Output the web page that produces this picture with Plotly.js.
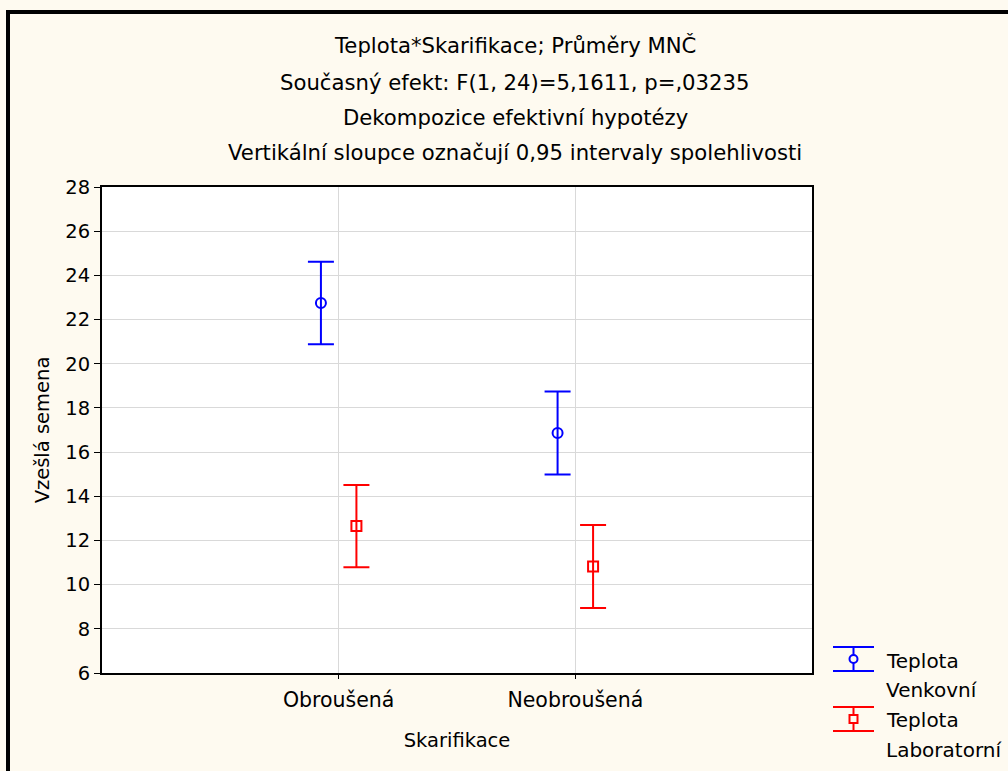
<!DOCTYPE html>
<html>
<head>
<meta charset="utf-8">
<script src="https://cdn.plot.ly/plotly-3.0.1.min.js"></script>
<style>
html,body{margin:0;padding:0;background:#FEFAF0;}
#chart{width:1008px;height:771px;}
</style>
</head>
<body>
<div id="chart"></div>
<script>
// Data
const categories = ["Obroušená", "Neobroušená"];
const venkovniMean = [22.75, 16.86];
const venkovniCI = [1.87, 1.88];
const laboratorniMean = [12.65, 10.82];
const laboratorniCI = [1.86, 1.88];
const yTicks = [6, 8, 10, 12, 14, 16, 18, 20, 22, 24, 26, 28];
const titleLines = [
  "Teplota*Skarifikace; Průměry MNČ",
  "Současný efekt: F(1, 24)=5,1611, p=,03235",
  "Dekompozice efektivní hypotézy",
  "Vertikální sloupce označují 0,95 intervaly spolehlivosti"
];
const legendLabels = [["Teplota", "Venkovní"], ["Teplota", "Laboratorní"]];

const FONT = "DejaVu Sans, Verdana, sans-serif";
const BLUE = "#0000FF", RED = "#FF0000";

// plot area geometry (pixels)
const L = 102, R = 812, T = 187, B = 673, W = 1008, H = 771;
const pw = R - L, ph = B - T;
const px = x => (x - L) / pw;
const py = y => (B - y) / ph;

const traces = [
  {
    type: "scatter", mode: "markers", name: "Teplota Venkovní",
    x: categories, y: venkovniMean,
    marker: {symbol: "circle-open", size: 10, color: BLUE, line: {width: 2, color: BLUE}},
    error_y: {type: "data", array: venkovniCI, visible: true, color: BLUE, thickness: 2, width: 13},
    showlegend: false, cliponaxis: false
  },
  {
    type: "scatter", mode: "markers", name: "Teplota Laboratorní",
    x: categories, y: laboratorniMean,
    marker: {symbol: "square-open", size: 10, color: RED, line: {width: 2, color: RED}},
    error_y: {type: "data", array: laboratorniCI, visible: true, color: RED, thickness: 2, width: 13},
    showlegend: false, cliponaxis: false
  }
];

const titleY = [45, 82.5, 117, 152];
const annotations = titleLines.map((t, i) => ({
  text: t, xref: "paper", yref: "paper",
  x: px(515), y: py(titleY[i]),
  xanchor: "center", yanchor: "middle", showarrow: false,
  font: {family: FONT, size: 21.2, color: "#000"}
}));

const legendTextY = [[661, 690], [720, 750]];
legendLabels.forEach((pair, i) => {
  pair.forEach((t, j) => {
    annotations.push({
      text: t, xref: "paper", yref: "paper",
      x: px(884), y: py(legendTextY[i][j]),
      xanchor: "left", yanchor: "middle", showarrow: false,
      font: {family: FONT, size: 20, color: "#000"}
    });
  });
});

const shapes = [];
// outer frame
shapes.push({type: "line", xref: "paper", yref: "paper", x0: px(8), x1: px(8), y0: py(10), y1: py(H + 5), line: {color: "#000", width: 4}});
shapes.push({type: "line", xref: "paper", yref: "paper", x0: px(6), x1: px(W + 5), y0: py(12), y1: py(12), line: {color: "#000", width: 4}});

// legend symbols
const legendSym = [{c: BLUE, y: 659, sym: "circle"}, {c: RED, y: 719, sym: "rect"}];
legendSym.forEach(s => {
  const top = s.y - 12, bot = s.y + 12;
  shapes.push({type: "line", xref: "paper", yref: "paper", x0: px(833), x1: px(874), y0: py(top), y1: py(top), line: {color: s.c, width: 2}});
  shapes.push({type: "line", xref: "paper", yref: "paper", x0: px(833), x1: px(874), y0: py(bot), y1: py(bot), line: {color: s.c, width: 2}});
  shapes.push({type: "line", xref: "paper", yref: "paper", x0: px(853.5), x1: px(853.5), y0: py(top), y1: py(bot), line: {color: s.c, width: 2}});
  if (s.sym === "circle") {
    shapes.push({type: "circle", xref: "paper", yref: "paper", x0: px(849.5), x1: px(857.5), y0: py(s.y - 4), y1: py(s.y + 4), line: {color: s.c, width: 2}, fillcolor: "#FEFAF0"});
  } else {
    shapes.push({type: "rect", xref: "paper", yref: "paper", x0: px(849.5), x1: px(857.5), y0: py(s.y - 4), y1: py(s.y + 4), line: {color: s.c, width: 2}, fillcolor: "#FEFAF0"});
  }
});

const layout = {
  width: W, height: H,
  margin: {l: L, r: W - R, t: T, b: H - B, pad: 0},
  paper_bgcolor: "#FEFAF0",
  plot_bgcolor: "#FFFFFF",
  showlegend: false,
  scattermode: "group",
  scattergap: 0.7,
  font: {family: FONT, size: 18, color: "#000"},
  xaxis: {
    type: "category",
    range: [-1, 2],
    showgrid: true, gridcolor: "#D9D9D9", gridwidth: 1,
    ticks: "outside", ticklen: 4, tickwidth: 1, tickcolor: "#000",
    ticklabelstandoff: 3,
    showline: true, linecolor: "#000", linewidth: 2, mirror: true,
    tickfont: {family: FONT, size: 20.5, color: "#000"},
    title: {text: "Skarifikace", font: {family: FONT, size: 19.5, color: "#000"}, standoff: 23},
    zeroline: false, fixedrange: true
  },
  yaxis: {
    range: [6, 28],
    tickvals: yTicks,
    ticktext: yTicks.map(String),
    showgrid: true, gridcolor: "#D9D9D9", gridwidth: 1,
    ticks: "outside", ticklen: 6, tickwidth: 1, tickcolor: "#000",
    showline: true, linecolor: "#000", linewidth: 2, mirror: true,
    tickfont: {family: FONT, size: 19.5, color: "#000"},
    title: {text: "Vzešlá semena", font: {family: FONT, size: 19.5, color: "#000"}, standoff: 10},
    zeroline: false, fixedrange: true
  },
  annotations: annotations,
  shapes: shapes
};

Plotly.newPlot("chart", traces, layout, {displayModeBar: false, staticPlot: true});
</script>
</body>
</html>
